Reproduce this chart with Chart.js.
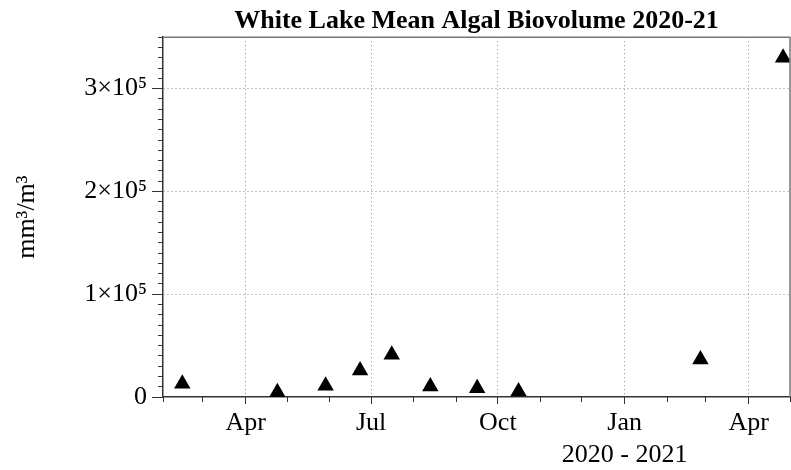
<!DOCTYPE html>
<html>
<head>
<meta charset="utf-8">
<script src="https://cdn.jsdelivr.net/npm/chart.js@4.4.1/dist/chart.umd.min.js"></script>
<style>
  html, body { margin: 0; padding: 0; background: #fff; }
  #wrap { width: 791px; height: 470px; }
</style>
</head>
<body>
<div id="wrap"><canvas id="algae" width="791" height="470"></canvas></div>
<script>
const sampleDates = ['2020-02-15', '2020-04-24', '2020-05-29', '2020-06-23', '2020-07-16',
                     '2020-08-13', '2020-09-16', '2020-10-16', '2021-02-25', '2021-04-26'];
const biovolume = [12800, 4600, 11000, 25800, 41000, 10100, 8500, 5400, 36500, 330000];

const xMajorDates = ['2020-04-01', '2020-07-01', '2020-10-01', '2021-01-01', '2021-04-01'];
const xMajorLabels = ['Apr', 'Jul', 'Oct', ['Jan', '2020 - 2021'], 'Apr'];
const yMajorValues = [0, 100000, 200000, 300000];
const yMajorLabels = ['0', '1×10⁵', '2×10⁵', '3×10⁵'];

const xStart = '2020-02-01';
const xEnd = '2021-05-01';
const yMax = 350000;

const serif = 'Liberation Serif';
const axisColor = '#333';
const gridColor = '#888';

function dayNum(s) {
  return (Date.parse(s) - Date.parse('2020-01-01')) / 864e5;
}

// first day of each month, used for the short unlabelled ticks
const monthStarts = [];
for (let d = new Date(xStart); d <= new Date(xEnd); d.setUTCMonth(d.getUTCMonth() + 1)) {
  monthStarts.push(dayNum(d.toISOString().slice(0, 10)));
}

// top and right edges of the box round the plot
const frame = {
  id: 'frame',
  afterDraw(chart) {
    const { ctx, chartArea: a } = chart;
    ctx.save();
    ctx.strokeStyle = '#777';
    ctx.lineWidth = 1.5;
    ctx.beginPath();
    ctx.moveTo(a.left, a.top);
    ctx.lineTo(a.right, a.top);
    ctx.lineTo(a.right, a.bottom);
    ctx.stroke();
    ctx.restore();
  }
};

new Chart(document.getElementById('algae'), {
  type: 'scatter',
  data: {
    datasets: [{
      label: 'Mean algal biovolume',
      data: sampleDates.map((d, i) => ({ x: dayNum(d), y: biovolume[i] })),
      pointStyle: 'triangle',
      pointRadius: 9.5,
      pointHoverRadius: 9.5,
      backgroundColor: '#000',
      borderWidth: 0,
      clip: 0
    }]
  },
  options: {
    responsive: false,
    animation: false,
    devicePixelRatio: 1,
    layout: { autoPadding: false, padding: { left: 0, right: 1, top: 0, bottom: 0 } },
    plugins: {
      legend: { display: false },
      tooltip: { enabled: false },
      title: {
        display: true,
        text: 'White Lake Mean Algal Biovolume 2020-21',
        fullSize: false,
        color: '#000',
        font: { family: serif, size: 26, weight: 'bold' },
        padding: { top: 6, bottom: 0 }
      }
    },
    scales: {
      x: {
        type: 'linear',
        position: 'bottom',
        weight: 0,
        min: dayNum(xStart),
        max: dayNum(xEnd),
        afterBuildTicks: s => { s.ticks = xMajorDates.map(d => ({ value: dayNum(d) })); },
        afterFit: s => { s.height = 73; },
        ticks: {
          autoSkip: false,
          maxRotation: 0,
          padding: 4,
          color: '#000',
          font: { family: serif, size: 26 },
          callback: (v, i) => xMajorLabels[i]
        },
        grid: { color: gridColor, tickColor: axisColor, tickLength: 7, lineWidth: 1 },
        border: { color: axisColor, width: 1.5, dash: [1, 3] }
      },
      xMinor: {
        type: 'linear',
        position: 'bottom',
        weight: -1,
        min: dayNum(xStart),
        max: dayNum(xEnd),
        afterBuildTicks: s => { s.ticks = monthStarts.map(v => ({ value: v })); },
        afterFit: s => { s.height = 0; },
        ticks: { display: false },
        grid: { drawOnChartArea: false, tickColor: axisColor, tickLength: 5 },
        border: { display: false }
      },
      y: {
        type: 'linear',
        position: 'left',
        weight: 0,
        min: 0,
        max: yMax,
        afterBuildTicks: s => { s.ticks = yMajorValues.map(v => ({ value: v })); },
        afterFit: s => { s.width = 163; },
        ticks: {
          padding: 5,
          color: '#000',
          font: { family: serif, size: 26 },
          callback: (v, i) => yMajorLabels[i]
        },
        grid: {
          color: c => (c.tick && c.tick.value === 0 ? 'rgba(0,0,0,0)' : gridColor),
          tickColor: axisColor,
          tickLength: 11
        },
        border: { color: axisColor, width: 1.5, dash: [1, 3] },
        title: {
          display: true,
          text: 'mm³/m³',
          color: '#000',
          font: { family: serif, size: 26 },
          padding: { top: 12, bottom: 0 }
        }
      },
      yMinor: {
        type: 'linear',
        position: 'left',
        weight: -1,
        min: 0,
        max: yMax,
        afterFit: s => { s.width = 0; },
        ticks: { display: false, stepSize: 10000, maxTicksLimit: 100 },
        grid: { drawOnChartArea: false, tickColor: axisColor, tickLength: 5 },
        border: { display: false }
      }
    }
  },
  plugins: [frame]
});
</script>
</body>
</html>
